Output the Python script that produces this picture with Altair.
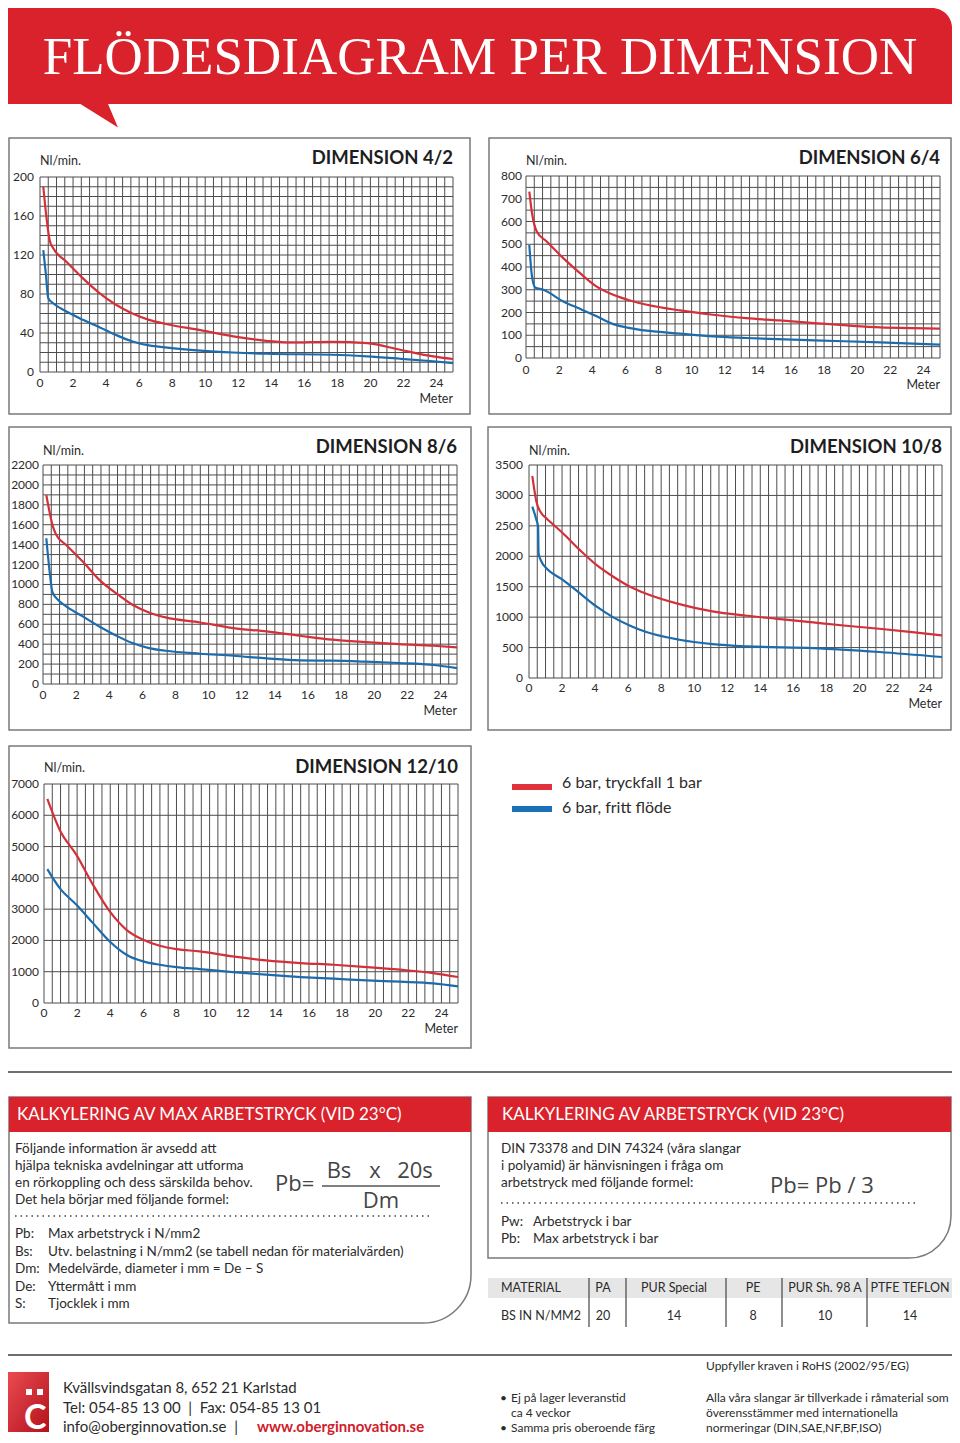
import altair as alt
import pandas as pd
import numpy as np

# ---------------- data ----------------
X_TICKS = [0, 2, 4, 6, 8, 10, 12, 14, 16, 18, 20, 22, 24]

D42_RED_M = [0.2, 0.4, 0.6, 0.8, 1.6, 2.6, 3.6, 4.6, 5.6, 6.6, 7.7, 9.7, 11.7, 13.7, 15.1, 17.7, 19.8, 21.8, 23.8, 25]
D42_RED_V = [190, 157, 134, 127, 113, 96, 81, 69, 60, 53.5, 49, 43, 36.5, 32, 30.3, 31, 29.6, 22.8, 16, 13.3]
D42_BLUE_M = [0.2, 0.36, 0.5, 0.8, 1.6, 2.6, 3.6, 4.6, 5.6, 6.6, 7.7, 9.7, 11.7, 13.7, 17.7, 19.8, 21.8, 23.8, 25]
D42_BLUE_V = [125, 99.5, 75.6, 70.5, 62, 53.5, 46, 38, 31.3, 27.3, 25, 22, 20, 18.7, 17.7, 16, 13.6, 11, 9.2]
D42_Y_TICKS = [0, 40, 80, 120, 160, 200]

D64_RED_M = [0.2, 0.35, 0.65, 1.25, 2.25, 3.26, 4.27, 5.27, 6.28, 7.3, 9.3, 11.3, 13.3, 15.3, 17.4, 19.4, 21.4, 23.4, 25]
D64_RED_V = [731, 643, 556, 512, 439, 373, 314, 278, 253, 234, 209, 190, 175, 165, 153.5, 143, 134.5, 131.6, 128.7]
D64_BLUE_M = [0.2, 0.35, 0.55, 1.05, 2.25, 3.26, 4.27, 5.27, 6.28, 7.3, 9.3, 11.3, 13.3, 17.4, 21.4, 25]
D64_BLUE_V = [497, 365, 310, 300, 248.5, 216, 183, 149, 131.6, 120, 107, 95, 88, 77.5, 68.7, 58.5]
D64_Y_TICKS = [0, 100, 200, 300, 400, 500, 600, 700, 800]

D86_RED_M = [0.2, 0.6, 0.8, 1.4, 2.4, 3.4, 4.4, 5.4, 6.4, 7.4, 9.5, 11.5, 13.5, 15.5, 17.5, 19.5, 21.5, 23.6, 25]
D86_RED_V = [1899, 1581, 1498, 1397, 1230, 1046, 913, 796, 719, 669, 618, 562, 528, 485, 445, 421, 401, 384, 368]
D86_BLUE_M = [0.2, 0.4, 0.56, 0.9, 1.4, 2.4, 3.4, 4.4, 5.4, 6.4, 7.4, 9.5, 11.5, 13.5, 15.5, 17.5, 19.5, 21.5, 23.6, 25]
D86_BLUE_V = [1464, 1130, 929, 846, 779, 679, 578, 488, 411, 361, 334, 304, 284, 257, 237, 234, 224, 211, 191, 160]
D86_Y_TICKS = [0, 200, 400, 600, 800, 1000, 1200, 1400, 1600, 1800, 2000, 2200]

D108_RED_M = [0.2, 0.45, 0.75, 1.05, 2.05, 3.07, 4.08, 5.08, 6.09, 7.1, 9.1, 11.1, 13.2, 15.2, 17.2, 19.2, 21.2, 23.2, 25]
D108_RED_V = [3319, 2898, 2707, 2625, 2379, 2105, 1859, 1668, 1504, 1384, 1214, 1094, 1023, 968, 913, 859, 809, 755, 700]
D108_BLUE_M = [0.2, 0.45, 0.55, 0.58, 0.75, 1.05, 2.05, 3.07, 4.08, 5.08, 6.09, 7.1, 9.1, 11.1, 13.2, 17.2, 21.2, 25]
D108_BLUE_V = [2816, 2598, 2488, 2051, 1914, 1805, 1613, 1394, 1176, 1001, 864, 755, 629, 558, 520, 492, 427, 345]
D108_Y_TICKS = [0, 500, 1000, 1500, 2000, 2500, 3000, 3500]

D1210_M = [0.2, 0.95, 1.96, 2.96, 3.97, 4.98, 5.99, 6.99, 8.0, 9.4, 11.4, 13.4, 15.5, 17.5, 19.5, 21.5, 23.5, 25]
D1210_RED_V = [6521, 5532, 4734, 3777, 2926, 2340, 2021, 1830, 1723, 1649, 1489, 1362, 1277, 1223, 1149, 1064, 957, 830]
D1210_BLUE_V = [4277, 3670, 3138, 2553, 1968, 1543, 1330, 1223, 1149, 1085, 989, 904, 830, 777, 723, 681, 628, 532]
D1210_Y_TICKS = [0, 1000, 2000, 3000, 4000, 5000, 6000, 7000]

SERIES_NAMES = ["6 bar, tryckfall 1 bar", "6 bar, fritt flöde"]

TABLE_HEAD = ["MATERIAL", "PA", "PUR Special", "PE", "PUR Sh. 98 A", "PTFE TEFLON"]
TABLE_ROW = ["BS IN N/MM2", "20", "14", "8", "10", "14"]

# ---------------- style ----------------
O = 8
L_EDGE = 9      # leftmost drawable edge (page margin is 8px)
R_EDGE = 951    # rightmost drawable edge
FONT = "Lato"
RED = "#d9222b"
LINE_RED = "#d4303a"
LINE_BLUE = "#1c6cad"
GRID = "#4d4d4d"
TXT = "#2b2b2b"
BOX = "#7a7a7a"
NB = "\u00a0"
DUMMY = pd.DataFrame({"d": [0]})


def txt(s, x, y, size=13.5, color=TXT, align="left", baseline="middle", weight="normal", font=FONT):
    return alt.Chart(DUMMY).mark_text(
        text=s, align=align, baseline=baseline, fontSize=size, color=color,
        fontWeight=weight, font=font
    ).encode(x=alt.value(x - O), y=alt.value(y - O))


def rect(x1, y1, x2, y2, **kw):
    return alt.Chart(DUMMY).mark_rect(**kw).encode(
        x=alt.value(x1 - O), x2=alt.value(x2 - O), y=alt.value(y1 - O), y2=alt.value(y2 - O))


def rule(x1, y1, x2, y2, **kw):
    return alt.Chart(DUMMY).mark_rule(**kw).encode(
        x=alt.value(x1 - O), x2=alt.value(x2 - O), y=alt.value(y1 - O), y2=alt.value(y2 - O))


PANELS = [
    dict(title="DIMENSION 4/2", red=(D42_RED_M, D42_RED_V), blue=(D42_BLUE_M, D42_BLUE_V),
         yticks=D42_Y_TICKS, ymax=200, ystep=10,
         g=dict(x0=40, x1=453, yb=372, yt=177, ylab=34, xlab=383, meter=399, nl=161, title=158,
                box=(L_EDGE, 138, 470, 414))),
    dict(title="DIMENSION 6/4", red=(D64_RED_M, D64_RED_V), blue=(D64_BLUE_M, D64_BLUE_V),
         yticks=D64_Y_TICKS, ymax=800, ystep=50,
         g=dict(x0=526, x1=940, yb=358, yt=176, ylab=522, xlab=370, meter=385, nl=161, title=158,
                box=(489, 138, R_EDGE, 414))),
    dict(title="DIMENSION 8/6", red=(D86_RED_M, D86_RED_V), blue=(D86_BLUE_M, D86_BLUE_V),
         yticks=D86_Y_TICKS, ymax=2200, ystep=100,
         g=dict(x0=43, x1=457, yb=684, yt=465, ylab=39, xlab=695, meter=711, nl=451, title=447,
                box=(L_EDGE, 427, 471, 730))),
    dict(title="DIMENSION 10/8", red=(D108_RED_M, D108_RED_V), blue=(D108_BLUE_M, D108_BLUE_V),
         yticks=D108_Y_TICKS, ymax=3500, ystep=500,
         g=dict(x0=529, x1=942, yb=678, yt=465, ylab=523, xlab=688, meter=704, nl=451, title=447,
                box=(488, 427, R_EDGE, 730))),
    dict(title="DIMENSION 12/10", red=(D1210_M, D1210_RED_V), blue=(D1210_M, D1210_BLUE_V),
         yticks=D1210_Y_TICKS, ymax=7000, ystep=1000,
         g=dict(x0=44, x1=458, yb=1003, yt=784, ylab=39, xlab=1013, meter=1029, nl=768, title=767,
                box=(L_EDGE, 746, 471, 1048))),
]


def panel(p):
    g = p["g"]
    xs = alt.Scale(domain=[0, 25], range=[g["x0"] - O, g["x1"] - O], nice=False)
    ys = alt.Scale(domain=[0, p["ymax"]], range=[g["yb"] - O, g["yt"] - O], nice=False)
    L = []
    L.append(rect(*g["box"], fill="white", stroke=BOX, strokeWidth=1.5))
    vgrid = pd.DataFrame({"m": np.arange(0, 25.01, 0.5)})
    L.append(alt.Chart(vgrid).mark_rule(color=GRID, strokeWidth=1).encode(
        x=alt.X("m:Q", scale=xs, axis=None), y=alt.value(g["yt"] - O), y2=alt.value(g["yb"] - O)))
    hgrid = pd.DataFrame({"v": np.arange(0, p["ymax"] + 0.1, p["ystep"])})
    L.append(alt.Chart(hgrid).mark_rule(color=GRID, strokeWidth=1).encode(
        y=alt.Y("v:Q", scale=ys, axis=None), x=alt.value(g["x0"] - O), x2=alt.value(g["x1"] - O)))
    for (m, v), c in ((p["red"], LINE_RED), (p["blue"], LINE_BLUE)):
        df = pd.DataFrame({"m": m, "v": v})
        L.append(alt.Chart(df).mark_line(color=c, strokeWidth=2.2, interpolate="monotone").encode(
            x=alt.X("m:Q", scale=xs, axis=None), y=alt.Y("v:Q", scale=ys, axis=None)))
    L.append(alt.Chart(pd.DataFrame({"t": X_TICKS})).mark_text(
        fontSize=12, font=FONT, color=TXT, align="center", baseline="middle").encode(
        x=alt.X("t:Q", scale=xs, axis=None), y=alt.value(g["xlab"] - O), text="t:Q"))
    L.append(alt.Chart(pd.DataFrame({"t": p["yticks"]})).mark_text(
        fontSize=12, font=FONT, color=TXT, align="right", baseline="middle").encode(
        y=alt.Y("t:Q", scale=ys, axis=None), x=alt.value(g["ylab"] - O), text="t:Q"))
    L.append(txt("Meter", g["x1"], g["meter"], size=12.5, align="right"))
    L.append(txt("Nl/min.", g["x0"], g["nl"], size=12.5))
    L.append(txt(p["title"], g["x1"], g["title"], size=18.5, align="right", weight="bold", color="#1e1e1e"))
    return L


layers = []

# header banner
layers.append(rect(8, 8, 952, 104, color=RED, cornerRadiusTopRight=20))
layers.append(alt.Chart(DUMMY).mark_point(
    shape="M-1,-0.65L0.47,-0.65L1,0.6Z", size=1444, filled=True, color=RED, opacity=1, strokeWidth=0
).encode(x=alt.value(99 - O), y=alt.value(116 - O)))
layers.append(txt("FLÖDESDIAGRAM PER DIMENSION", 480, 74, size=53, color="white",
                  align="center", baseline="alphabetic", font="Liberation Serif"))

for p in PANELS:
    layers += panel(p)

# legend
layers.append(rule(512, 787, 552, 787, color="#e0323a", strokeWidth=6))
layers.append(rule(512, 809, 552, 809, color="#1b70b8", strokeWidth=6))
layers.append(txt(SERIES_NAMES[0], 562, 783, size=16))
layers.append(txt(SERIES_NAMES[1], 562, 808, size=16))

# separators
layers.append(rule(8, 1072, 952, 1072, color="#6e6e6e", strokeWidth=2))
layers.append(rule(8, 1355, 952, 1355, color="#6e6e6e", strokeWidth=2))

# left info box
layers.append(rect(L_EDGE, 1097, 471, 1323, fill="white", stroke=BOX, strokeWidth=1.5, cornerRadiusBottomRight=48))
layers.append(rect(L_EDGE, 1097, 471, 1132, color=RED))
layers.append(txt("KALKYLERING AV MAX ARBETSTRYCK (VID 23°C)", 17, 1115, size=17, color="white"))
for i, s in enumerate(["Följande information är avsedd att",
                       "hjälpa tekniska avdelningar att utforma",
                       "en rörkoppling och dess särskilda behov.",
                       "Det hela börjar med följande formel:"]):
    layers.append(txt(s, 15, 1149 + i * 17, size=13.5))
layers.append(txt("Pb=", 275, 1184, size=22, color="#444", font="Open Sans"))
layers.append(txt("Bs", 339, 1171, size=22, color="#444", align="center", font="Open Sans"))
layers.append(txt("x", 375, 1171, size=22, color="#444", align="center", font="Open Sans"))
layers.append(txt("20s", 415, 1171, size=22, color="#444", align="center", font="Open Sans"))
layers.append(rule(322, 1186, 440, 1186, color="#555", strokeWidth=1.5))
layers.append(txt("Dm", 381, 1201, size=22, color="#444", align="center", font="Open Sans"))
layers.append(rule(15, 1216, 432, 1216, color="#444", strokeWidth=1.5, strokeDash=[1.5, 4]))
for i, (a, b) in enumerate([("Pb:", "Max arbetstryck i N/mm2"),
                            ("Bs:", "Utv. belastning i N/mm2 (se tabell nedan för materialvärden)"),
                            ("Dm:", "Medelvärde, diameter i mm = De – S"),
                            ("De:", "Yttermått i mm"),
                            ("S:", "Tjocklek i mm")]):
    layers.append(txt(a, 15, 1234 + i * 17.5, size=13.5))
    layers.append(txt(b, 48, 1234 + i * 17.5, size=13.5))

# right info box
layers.append(rect(488, 1097, R_EDGE, 1258, fill="white", stroke=BOX, strokeWidth=1.5, cornerRadiusBottomRight=42))
layers.append(rect(488, 1097, R_EDGE, 1132, color=RED))
layers.append(txt("KALKYLERING AV ARBETSTRYCK (VID 23°C)", 502, 1115, size=17, color="white"))
for i, s in enumerate(["DIN 73378 and DIN 74324 (våra slangar",
                       "i polyamid) är hänvisningen i fråga om",
                       "arbetstryck med följande formel:"]):
    layers.append(txt(s, 501, 1149 + i * 17, size=13.5))
layers.append(txt("Pb= Pb / 3", 770, 1186, size=22, color="#444", font="Open Sans"))
layers.append(rule(501, 1203, 918, 1203, color="#444", strokeWidth=1.5, strokeDash=[1.5, 4]))
layers.append(txt("Pw:", 501, 1222, size=13.5))
layers.append(txt("Arbetstryck i bar", 533, 1222, size=13.5))
layers.append(txt("Pb:", 501, 1239, size=13.5))
layers.append(txt("Max arbetstryck i bar", 533, 1239, size=13.5))

# material table
layers.append(rect(488, 1278, R_EDGE + 1, 1298, color="#e6e6e6"))
for xs_ in [589, 626, 726, 782, 867]:
    layers.append(rule(xs_, 1278, xs_, 1327, color="#444", strokeWidth=1.2))
col_x = [501, 603, 674, 753, 825, 910]
for i, (h, v) in enumerate(zip(TABLE_HEAD, TABLE_ROW)):
    al = "left" if i == 0 else "center"
    layers.append(txt(h, col_x[i], 1288, size=12.5, align=al))
    layers.append(txt(v, col_x[i], 1316, size=12.5, align=al))

# footer
logo_grad = alt.LinearGradient(gradient="linear", x1=0, y1=0, x2=1, y2=1,
                               stops=[alt.GradientStop(color="#ea4a50", offset=0),
                                      alt.GradientStop(color="#b3121b", offset=1)])
layers.append(rect(8, 1372, 49, 1432, color=logo_grad))
layers.append(rect(26, 1389, 32, 1395, color="white"))
layers.append(rect(37, 1389, 43, 1395, color="white"))
layers.append(txt("C", 24, 1429, size=34, color="white", weight="bold", baseline="alphabetic"))
layers.append(txt("Kvällsvindsgatan 8, 652 21 Karlstad", 63, 1388, size=15))
layers.append(txt("Tel: 054-85 13 00" + NB * 2 + "|" + NB * 2 + "Fax: 054-85 13 01", 63, 1408, size=15))
layers.append(txt("info@oberginnovation.se" + NB * 2 + "|", 63, 1427, size=15))
layers.append(txt("www.oberginnovation.se", 257, 1427, size=15, color="#d0202a", weight="bold"))

layers.append(txt("Uppfyller kraven i RoHS (2002/95/EG)", 706, 1366, size=12))
layers.append(txt("•", 500, 1398, size=12))
layers.append(txt("Ej på lager leveranstid", 511, 1398, size=12))
layers.append(txt("ca 4 veckor", 511, 1413, size=12))
layers.append(txt("•", 500, 1428, size=12))
layers.append(txt("Samma pris oberoende färg", 511, 1428, size=12))
for i, s in enumerate(["Alla våra slangar är tillverkade i råmaterial som",
                       "överensstämmer med internationella",
                       "normeringar (DIN,SAE,NF,BF,ISO)"]):
    layers.append(txt(s, 706, 1398 + i * 15, size=12))

chart = alt.layer(*layers).resolve_scale(
    x="independent", y="independent"
).properties(
    width=944, height=1427, padding=0,
    autosize=alt.AutoSizeParams(type="none"), background="white"
).configure_view(stroke=None)

chart.save("out.html", embed_options={"renderer": "svg", "actions": False})
